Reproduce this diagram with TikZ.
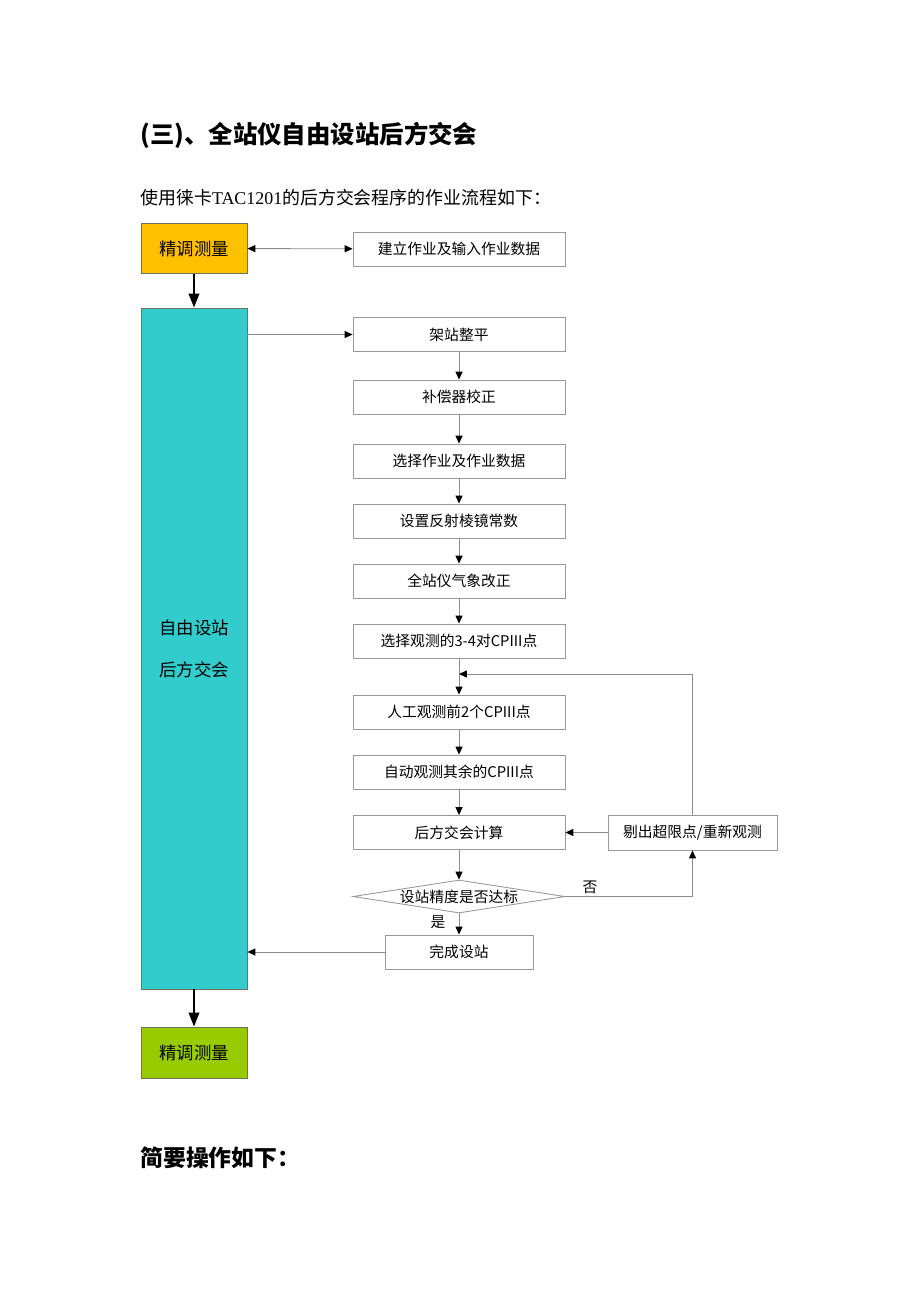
\documentclass[tikz,border=0pt]{standalone}
\usepackage{fontspec}
\setmainfont{Noto Sans CJK SC}
\newfontfamily\latinserif{Liberation Serif}
\usetikzlibrary{arrows.meta,shapes.geometric}
\definecolor{boxgray}{HTML}{999999}
\definecolor{linegray}{HTML}{8C8C8C}
\definecolor{edgegray}{HTML}{707060}
\definecolor{fineorange}{HTML}{FFC000}
\definecolor{stationcyan}{HTML}{33CCCC}
\definecolor{finegreen}{HTML}{99CC00}
\begin{document}
\begin{tikzpicture}[x=0.02cm,y=-0.02cm,
  stepbox/.style={draw=boxgray, line width=0.5pt, minimum width=4.24cm, minimum height=0.68cm, inner sep=0pt, font=\fontsize{8.4}{10}\selectfont},
  measbox/.style={draw=edgegray, line width=0.5pt, minimum width=2.12cm, minimum height=1cm, inner sep=0pt, font=\fontsize{9.9}{12}\selectfont},
  conn/.style={draw=linegray, line width=0.5pt, -{Triangle[length=4.5pt,width=4pt,color=black]}},
  bothconn/.style={draw=linegray, line width=0.5pt, {Triangle[length=4.5pt,width=4pt,color=black]}-{Triangle[length=4.5pt,width=4pt,color=black]}},
  bigarrow/.style={line width=1.2pt, -{Triangle[length=8pt,width=6pt]}},
  note/.style={inner sep=0pt, font=\fontsize{8.4}{10}\selectfont}]
\useasboundingbox (0,0) rectangle (920,1302);
\node[anchor=west, inner sep=0pt, font=\fontsize{13.9}{16}\selectfont\bfseries] (title) at (140,135) {(三)、全站仪自由设站后方交会};
\node[anchor=west, inner sep=0pt, font=\fontsize{10.2}{12}\selectfont] (intro) at (140,198) {使用徕卡{\latinserif TAC1201}的后方交会程序的作业流程如下：};
\node[measbox, fill=fineorange] (fine1) at (194,248.5) {精调测量};
\node[stepbox] (setup) at (459,249) {建立作业及输入作业数据};
\node[measbox, fill=stationcyan, minimum height=13.62cm, align=center, font=\fontsize{9.9}{23.8}\selectfont] (free) at (194,648.5) {自由设站\\后方交会};
\node[measbox, fill=finegreen, minimum height=1.02cm] (fine2) at (194,1052.5) {精调测量};
\node[stepbox] (s1) at (459,334.5) {架站整平};
\node[stepbox] (s2) at (459,397) {补偿器校正};
\node[stepbox] (s3) at (459,461) {选择作业及作业数据};
\node[stepbox] (s4) at (459,521) {设置反射棱镜常数};
\node[stepbox] (s5) at (459,581) {全站仪气象改正};
\node[stepbox] (s6) at (459,641) {选择观测的3-4对CPIII点};
\node[stepbox] (s7) at (459,712) {人工观测前2个CPIII点};
\node[stepbox] (s8) at (459,772) {自动观测其余的CPIII点};
\node[stepbox] (s9) at (459,832.5) {后方交会计算};
\node[stepbox, minimum width=3.38cm, minimum height=0.7cm] (redo) at (692.5,832.5) {剔出超限点/重新观测};
\node[draw=boxgray, line width=0.5pt, diamond, inner sep=0pt, minimum width=4.24cm, minimum height=0.66cm, font=\fontsize{8.4}{10}\selectfont] (check) at (459,896.5) {\makebox[0pt]{设站精度是否达标}};
\node[stepbox, minimum width=2.96cm] (done) at (459,952) {完成设站};
\node[note] (no) at (590,887) {否};
\node[note] (yes) at (438,922) {是};
\node[anchor=west, inner sep=0pt, font=\fontsize{13}{16}\selectfont\bfseries] (brief) at (140,1158) {简要操作如下：};
\coordinate (loop) at (459,674);
\draw[bigarrow] (fine1) -- (free);
\draw[bigarrow] (free) -- (fine2);
\draw[bothconn] (fine1) -- (setup);
\draw[conn] (free.east |- s1) -- (s1);
\draw[conn] (s1) -- (s2);
\draw[conn] (s2) -- (s3);
\draw[conn] (s3) -- (s4);
\draw[conn] (s4) -- (s5);
\draw[conn] (s5) -- (s6);
\draw[conn] (s6) -- (s7);
\draw[conn] (s7) -- (s8);
\draw[conn] (s8) -- (s9);
\draw[conn] (s9) -- (check);
\draw[conn] (redo) -- (s9);
\draw[conn] (redo.north) |- (loop);
\draw[conn] (check.east) -| (redo.south);
\draw[conn] (check) -- (done);
\draw[conn] (done) -- (free.east |- done);
\end{tikzpicture}
\end{document}
